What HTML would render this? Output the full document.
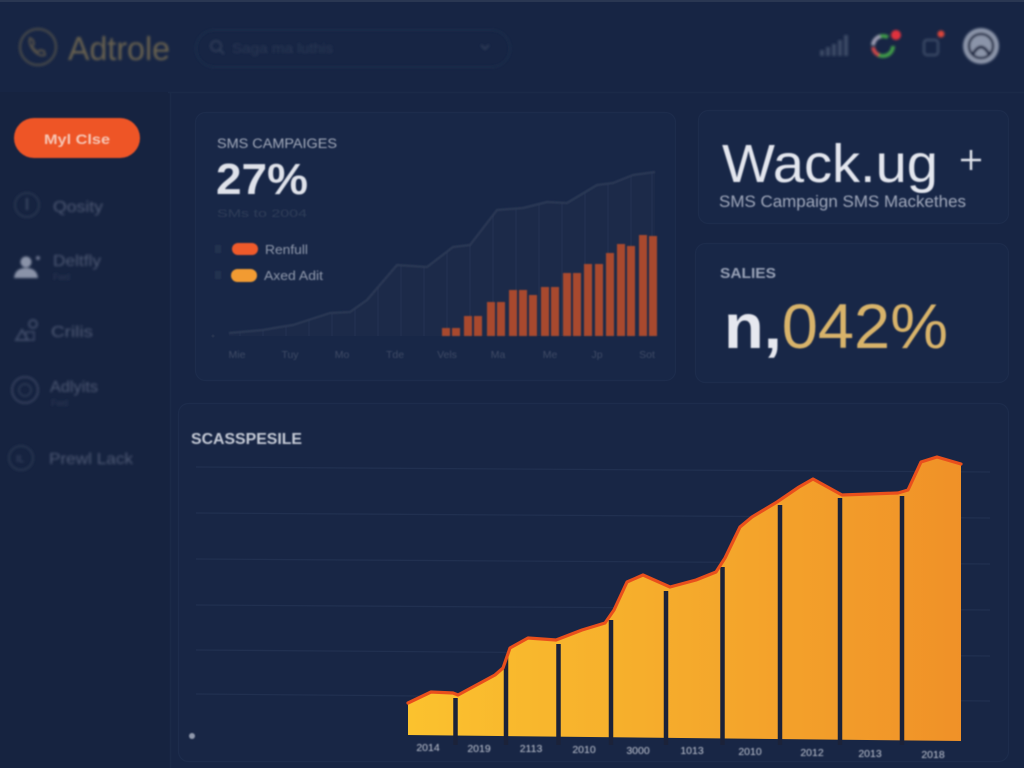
<!DOCTYPE html>
<html><head><meta charset="utf-8"><style>
html,body{margin:0;padding:0;background:#172544;overflow:hidden;}
svg{display:block;}
text{font-family:"Liberation Sans",sans-serif;}
</style></head><body>
<svg width="1024" height="768" viewBox="0 0 1024 768" xmlns="http://www.w3.org/2000/svg">
<defs>
<linearGradient id="gold" x1="408" y1="0" x2="962" y2="0" gradientUnits="userSpaceOnUse">
<stop offset="0" stop-color="#fbc22e"/><stop offset="0.5" stop-color="#f5aa2c"/><stop offset="1" stop-color="#f09128"/>
</linearGradient>
<filter id="b1" x="-10%" y="-10%" width="120%" height="120%"><feGaussianBlur stdDeviation="0.8"/></filter>
<filter id="b2" x="-10%" y="-10%" width="120%" height="120%"><feGaussianBlur stdDeviation="1.4"/></filter>
<clipPath id="area1"><polygon points="229,333 263,330 280,327 293,325 330,313 350,312 367,300 397,265 427,267 453,247 470,245 497,210 523,208 547,202 567,203 597,185 613,183 633,175 655,172 655,336 229,336"/></clipPath>
</defs>

<rect width="1024" height="768" fill="#172544"/>
<rect x="0" y="92" width="170" height="676" fill="#162340"/>
<rect x="0" y="0" width="1024" height="2" fill="#2a3752"/>
<line x1="168" y1="92.5" x2="1024" y2="92.5" stroke="#1b2a48" stroke-width="1.5"/>
<line x1="170.5" y1="92" x2="170.5" y2="768" stroke="#1b2a48" stroke-width="1.5"/>

<!-- Header -->
<g filter="url(#b2)">
<circle cx="38" cy="47" r="18" fill="none" stroke="#45464a" stroke-width="2.5"/>
<path d="M30,38 q-2,6 4,13 q6,6 11,4 l-1,-4 -4,-1 -2,2 q-4,-2 -6,-6 l2,-2 -1,-4 z" fill="none" stroke="#524f48" stroke-width="2"/>
<text x="68" y="60" font-size="33" fill="#67614f" textLength="102" lengthAdjust="spacingAndGlyphs">Adtrole</text>
<rect x="196" y="30" width="314" height="37" rx="18.5" fill="none" stroke="#1f2d4c" stroke-width="1.5"/>
<circle cx="216" cy="46" r="5" fill="none" stroke="#2e3b57" stroke-width="2"/>
<line x1="220" y1="50" x2="224" y2="54" stroke="#2e3b57" stroke-width="2"/>
<text x="232" y="53" font-size="14" fill="#2b3854" textLength="101" lengthAdjust="spacingAndGlyphs">Saga ma luthis</text>
<path d="M481,45 l4,4 4,-4" fill="none" stroke="#2d3a56" stroke-width="2"/>
<!-- right icons -->
<rect x="820" y="50" width="4" height="6" fill="#3b4965"/>
<rect x="826" y="47" width="4" height="9" fill="#3b4965"/>
<rect x="832" y="44" width="4" height="12" fill="#3b4965"/>
<rect x="838" y="40" width="4" height="16" fill="#3b4965"/>
<rect x="844" y="35" width="4" height="21" fill="#3b4965"/>
<circle cx="883" cy="46" r="10" fill="none" stroke="#3f9a4a" stroke-width="4" stroke-dasharray="20 12" />
<circle cx="883" cy="46" r="10" fill="none" stroke="#c8464a" stroke-width="4" stroke-dasharray="10 53" stroke-dashoffset="-20"/>
<circle cx="883" cy="46" r="10" fill="none" stroke="#9a98b0" stroke-width="4" stroke-dasharray="12 53" stroke-dashoffset="-32"/>
<circle cx="896" cy="35" r="5" fill="#e0303c"/>
<rect x="924" y="40" width="14" height="15" rx="3" fill="none" stroke="#3b4965" stroke-width="2.5"/>
<circle cx="941" cy="34" r="3.5" fill="#d9453a"/>
<circle cx="981" cy="46" r="18" fill="#8b94a9"/>
<circle cx="981" cy="46" r="12" fill="none" stroke="#16233f" stroke-width="2.5"/>
<path d="M973,54 q8,-14 16,0" fill="none" stroke="#16233f" stroke-width="3"/>
</g>

<!-- Sidebar -->
<rect x="14" y="118" width="126" height="40" rx="20" fill="#ee5428" filter="url(#b1)"/>
<text x="77" y="144" font-size="14" font-weight="bold" fill="#f6c6b5" text-anchor="middle" textLength="66" lengthAdjust="spacingAndGlyphs" filter="url(#b1)">Myl Clse</text>
<g filter="url(#b2)">
<circle cx="27" cy="205" r="12" fill="none" stroke="#27344f" stroke-width="2"/>
<line x1="27" y1="198" x2="27" y2="210" stroke="#3a4662" stroke-width="2"/>
<text x="53" y="212" font-size="16" fill="#4d5873" textLength="50" lengthAdjust="spacingAndGlyphs">Qosity</text>
<circle cx="26" cy="262" r="5.5" fill="#8a93a8"/>
<path d="M14,278 q1,-10 12,-10 q11,0 12,10 z" fill="#8a93a8"/>
<circle cx="38" cy="258" r="2" fill="#6d7690"/>
<text x="53" y="266" font-size="16" fill="#4d5873" textLength="48" lengthAdjust="spacingAndGlyphs">Deltfly</text>
<text x="53" y="280" font-size="9" fill="#2d3955">Fwd</text>
<path d="M16,340 l6,-10 6,10 z" fill="none" stroke="#3d4966" stroke-width="2"/>
<circle cx="33" cy="324" r="4" fill="none" stroke="#3d4966" stroke-width="2"/>
<rect x="26" y="332" width="8" height="8" fill="none" stroke="#3d4966" stroke-width="1.5"/>
<text x="51" y="337" font-size="16" fill="#4d5873" textLength="42" lengthAdjust="spacingAndGlyphs">Crilis</text>
<circle cx="25" cy="390" r="13" fill="none" stroke="#34415d" stroke-width="2"/>
<circle cx="25" cy="390" r="6" fill="none" stroke="#2d3a56" stroke-width="1.5"/>
<text x="50" y="392" font-size="16" fill="#4d5873" textLength="48" lengthAdjust="spacingAndGlyphs">Adlyits</text>
<text x="51" y="406" font-size="9" fill="#2d3955">Fwd</text>
<circle cx="21" cy="458" r="12" fill="none" stroke="#27344f" stroke-width="2"/>
<text x="16" y="462" font-size="10" fill="#3d4966">IL</text>
<text x="49" y="464" font-size="16" fill="#4d5873" textLength="84" lengthAdjust="spacingAndGlyphs">Prewl Lack</text>
</g>

<!-- Panel 1 -->
<rect x="195.5" y="112.5" width="480" height="268" rx="10" fill="#182747" stroke="#1d2c4c" stroke-width="1.2"/>
<text x="217" y="148" font-size="13.5" fill="#a3aabb" textLength="120" lengthAdjust="spacingAndGlyphs" filter="url(#b1)">SMS CAMPAIGES</text>
<text x="216" y="194" font-size="44" font-weight="bold" fill="#dfe2ea" textLength="92" lengthAdjust="spacingAndGlyphs" filter="url(#b1)">27%</text>
<text x="217" y="217" font-size="11" fill="#2f3c58" textLength="90" lengthAdjust="spacingAndGlyphs" filter="url(#b1)">SMs to 2004</text>
<g filter="url(#b1)">
<rect x="215" y="245" width="6" height="8" fill="#203050"/>
<rect x="215" y="271" width="6" height="8" fill="#203050"/>
<rect x="232" y="243" width="26" height="12" rx="6" fill="#ef5a2c"/>
<rect x="231" y="269" width="26" height="13" rx="6.5" fill="#f29b32"/>
<text x="265" y="254" font-size="12.5" fill="#8f98ab" textLength="43" lengthAdjust="spacingAndGlyphs">Renfull</text>
<text x="264" y="280" font-size="12.5" fill="#8f98ab" textLength="59" lengthAdjust="spacingAndGlyphs">Axed Adit</text>
</g>
<!-- grey area -->
<polygon points="229,333 263,330 280,327 293,325 330,313 350,312 367,300 397,265 427,267 453,247 470,245 497,210 523,208 547,202 567,203 597,185 613,183 633,175 655,172 655,336 229,336" fill="#1c2a49"/>
<g clip-path="url(#area1)" stroke="#223050" stroke-width="1.5">
<line x1="240" y1="160" x2="240" y2="340"/><line x1="263" y1="160" x2="263" y2="340"/><line x1="286" y1="160" x2="286" y2="340"/>
<line x1="309" y1="160" x2="309" y2="340"/><line x1="332" y1="160" x2="332" y2="340"/><line x1="355" y1="160" x2="355" y2="340"/>
<line x1="378" y1="160" x2="378" y2="340"/><line x1="401" y1="160" x2="401" y2="340"/><line x1="424" y1="160" x2="424" y2="340"/>
<line x1="447" y1="160" x2="447" y2="340"/><line x1="470" y1="160" x2="470" y2="340"/><line x1="493" y1="160" x2="493" y2="340"/>
<line x1="516" y1="160" x2="516" y2="340"/><line x1="539" y1="160" x2="539" y2="340"/><line x1="562" y1="160" x2="562" y2="340"/>
<line x1="585" y1="160" x2="585" y2="340"/><line x1="608" y1="160" x2="608" y2="340"/><line x1="631" y1="160" x2="631" y2="340"/>
<line x1="652" y1="160" x2="652" y2="340"/>
</g>
<polyline points="229,333 263,330 280,327 293,325 330,313 350,312 367,300 397,265 427,267 453,247 470,245 497,210 523,208 547,202 567,203 597,185 613,183 633,175 655,172" fill="none" stroke="#2b3955" stroke-width="2.2" stroke-linejoin="round" filter="url(#b1)"/>
<!-- orange bars -->
<g fill="#a8492f" filter="url(#b1)">
<rect x="442" y="328" width="8" height="8"/><rect x="452" y="328" width="8" height="8"/>
<rect x="464" y="316" width="8" height="20"/><rect x="474" y="316" width="8" height="20"/>
<rect x="487" y="302" width="8" height="34"/><rect x="497" y="302" width="8" height="34"/>
<rect x="509" y="290" width="8" height="46"/><rect x="519" y="290" width="8" height="46"/><rect x="529" y="295" width="8" height="41"/>
<rect x="541" y="287" width="8" height="49"/><rect x="551" y="287" width="8" height="49"/>
<rect x="563" y="273" width="8" height="63"/><rect x="573" y="273" width="8" height="63"/>
<rect x="584" y="264" width="8" height="72"/><rect x="595" y="264" width="8" height="72"/>
<rect x="606" y="253" width="8" height="83"/>
<rect x="617" y="244" width="8" height="92"/><rect x="627" y="246" width="8" height="90"/>
<rect x="639" y="235" width="8" height="101"/><rect x="649" y="236" width="8" height="100"/>
</g>
<circle cx="213" cy="336" r="1.5" fill="#26334f"/>
<g font-size="10.5" fill="#3e4a65" text-anchor="middle" filter="url(#b1)">
<text x="237" y="358">Mie</text><text x="290" y="358">Tuy</text><text x="342" y="358">Mo</text>
<text x="395" y="358">Tde</text><text x="447" y="358">Vels</text><text x="498" y="358">Ma</text>
<text x="550" y="358">Me</text><text x="597" y="358">Jp</text><text x="647" y="358">Sot</text>
</g>

<!-- Panel 2 -->
<rect x="698.5" y="110.5" width="310" height="113" rx="10" fill="#182747" stroke="#1d2c4c" stroke-width="1.2"/>
<text x="722" y="182" font-size="54" fill="#e3e6ee" textLength="216" lengthAdjust="spacingAndGlyphs" filter="url(#b1)">Wack.ug</text>
<g stroke="#dfe2ea" stroke-width="2.5" filter="url(#b1)">
<line x1="961" y1="160" x2="981" y2="160"/><line x1="971" y1="150" x2="971" y2="170"/>
</g>
<text x="719" y="207" font-size="16.5" fill="#a0a8bb" textLength="247" lengthAdjust="spacingAndGlyphs" filter="url(#b1)">SMS Campaign SMS Mackethes</text>

<!-- Panel 3 -->
<rect x="695.5" y="243.5" width="313" height="139" rx="10" fill="#182747" stroke="#1d2c4c" stroke-width="1.2"/>
<text x="720" y="278" font-size="15" font-weight="bold" fill="#97a0b5" textLength="56" lengthAdjust="spacingAndGlyphs" filter="url(#b1)">SALIES</text>
<text x="724" y="348" font-size="63" font-weight="bold" filter="url(#b1)" textLength="224" lengthAdjust="spacingAndGlyphs"><tspan fill="#e6e8ef">n,</tspan><tspan fill="#d8b36b" font-weight="normal">042%</tspan></text>

<!-- Panel 4 -->
<rect x="178.5" y="403.5" width="830" height="358" rx="10" fill="#182645" stroke="#1d2c4c" stroke-width="1.2"/>
<text x="191" y="444" font-size="16" font-weight="bold" fill="#c5cad6" textLength="111" lengthAdjust="spacingAndGlyphs" filter="url(#b1)">SCASSPESILE</text>
<g stroke="#213050" stroke-width="1.3">
<line x1="196" y1="467" x2="990" y2="472"/>
<line x1="196" y1="513" x2="990" y2="518"/>
<line x1="196" y1="559" x2="990" y2="564"/>
<line x1="196" y1="605" x2="990" y2="610"/>
<line x1="196" y1="650" x2="990" y2="656"/>
<line x1="196" y1="694" x2="990" y2="701"/>
</g>
<circle cx="192" cy="736" r="3" fill="#8f98ab" filter="url(#b1)"/>

<!-- main area bars -->
<polygon points="408,703 431,692 453,693 458,695 495,675 503,668 510,648 528,638 556,640 582,630 605,623 614,610 627,582 643,575 670,587 696,580 716,572 725,558 740,527 752,517 777,502 799,487 813,479 842,495 898,493 908,490 921,462 937,457 961,464 961,741 408,735" fill="url(#gold)"/>
<g stroke="#1b2239" stroke-width="4.5">
<line x1="455.5" y1="698" x2="455.5" y2="745"/>
<line x1="506" y1="655" x2="506" y2="745"/>
<line x1="558.5" y1="644" x2="558.5" y2="745"/>
<line x1="611" y1="620" x2="611" y2="745"/>
<line x1="666" y1="591" x2="666" y2="745"/>
<line x1="722.5" y1="567" x2="722.5" y2="745"/>
<line x1="780" y1="505" x2="780" y2="745"/>
<line x1="840" y1="498" x2="840" y2="745"/>
<line x1="902" y1="496" x2="902" y2="745"/>
</g>
<polyline points="408,703 431,692 453,693 458,695 495,675 503,668 510,648 528,638 556,640 582,630 605,623 614,610 627,582 643,575 670,587 696,580 716,572 725,558 740,527 752,517 777,502 799,487 813,479 842,495 898,493 908,490 921,462 937,457 961,464" fill="none" stroke="#e94f1c" stroke-width="3.2" stroke-linejoin="round" stroke-linecap="round"/>
<g font-size="10.5" fill="#c3c8d4" text-anchor="middle" filter="url(#b1)">
<text x="428" y="751">2014</text><text x="479" y="752">2019</text><text x="531" y="752">2113</text>
<text x="584" y="753">2010</text><text x="638" y="754">3000</text><text x="692" y="754">1013</text>
<text x="750" y="755">2010</text><text x="812" y="756">2012</text><text x="870" y="757">2013</text>
<text x="933" y="758">2018</text>
</g>
</svg>
</body></html>
